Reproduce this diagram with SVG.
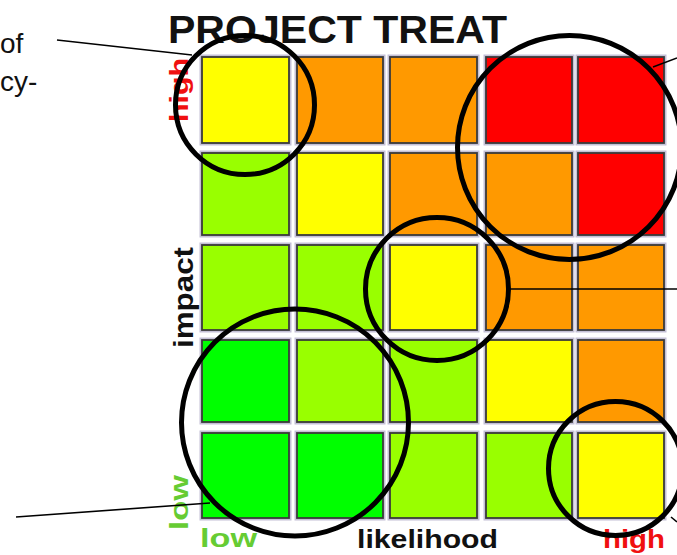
<svg xmlns="http://www.w3.org/2000/svg" width="677" height="555" viewBox="0 0 677 555">
<defs>
<style>
.cell{stroke:#3a3a3a;stroke-width:1.8}
.halo{fill:none;stroke:#c4c0d6;stroke-width:5}
.y{fill:#ffff00}.o{fill:#ff9900}.r{fill:#ff0000}.l{fill:#99ff00}.g{fill:#00ff00}
.ring{fill:none;stroke:#000;stroke-width:5}
.conn{stroke:#000;stroke-width:1.6;fill:none}
.lbl{font-family:"Liberation Sans",Arial,sans-serif;font-weight:bold;font-size:26px}
.side{font-family:"Liberation Sans",Arial,sans-serif;font-size:28px;fill:#111}
</style>
</defs>
<rect width="677" height="555" fill="#fff"/>

<g id="fragments">
<text class="side" x="0" y="53">of</text>
<text class="side" x="0" y="91">cy-</text>
</g>

<g id="title"><text class="lbl" x="168" y="43" style="font-size:38px" textLength="339" lengthAdjust="spacingAndGlyphs" fill="#111">PROJECT TREAT</text></g>

<g id="grid">
<g id="halos">
<rect class="halo" x="202" y="57" width="87" height="86"/><rect class="halo" x="297" y="57" width="86" height="86"/><rect class="halo" x="390" y="57" width="87" height="86"/><rect class="halo" x="486" y="57" width="86" height="86"/><rect class="halo" x="578" y="57" width="86" height="86"/>
<rect class="halo" x="202" y="153" width="87" height="82"/><rect class="halo" x="297" y="153" width="86" height="82"/><rect class="halo" x="390" y="153" width="87" height="82"/><rect class="halo" x="486" y="153" width="86" height="82"/><rect class="halo" x="578" y="153" width="86" height="82"/>
<rect class="halo" x="202" y="245" width="87" height="85"/><rect class="halo" x="297" y="245" width="86" height="85"/><rect class="halo" x="390" y="245" width="87" height="85"/><rect class="halo" x="486" y="245" width="86" height="85"/><rect class="halo" x="578" y="245" width="86" height="85"/>
<rect class="halo" x="202" y="340" width="87" height="82"/><rect class="halo" x="297" y="340" width="86" height="82"/><rect class="halo" x="390" y="340" width="87" height="82"/><rect class="halo" x="486" y="340" width="86" height="82"/><rect class="halo" x="578" y="340" width="86" height="82"/>
<rect class="halo" x="202" y="433" width="87" height="85"/><rect class="halo" x="297" y="433" width="86" height="85"/><rect class="halo" x="390" y="433" width="87" height="85"/><rect class="halo" x="486" y="433" width="86" height="85"/><rect class="halo" x="578" y="433" width="86" height="85"/>
</g>
<g id="row1">
<rect id="c11" class="cell y" x="202" y="57" width="87" height="86"/><rect id="c12" class="cell o" x="297" y="57" width="86" height="86"/><rect id="c13" class="cell o" x="390" y="57" width="87" height="86"/><rect id="c14" class="cell r" x="486" y="57" width="86" height="86"/><rect id="c15" class="cell r" x="578" y="57" width="86" height="86"/>
</g>
<g id="row2">
<rect id="c21" class="cell l" x="202" y="153" width="87" height="82"/><rect id="c22" class="cell y" x="297" y="153" width="86" height="82"/><rect id="c23" class="cell o" x="390" y="153" width="87" height="82"/><rect id="c24" class="cell o" x="486" y="153" width="86" height="82"/><rect id="c25" class="cell r" x="578" y="153" width="86" height="82"/>
</g>
<g id="row3">
<rect id="c31" class="cell l" x="202" y="245" width="87" height="85"/><rect id="c32" class="cell l" x="297" y="245" width="86" height="85"/><rect id="c33" class="cell y" x="390" y="245" width="87" height="85"/><rect id="c34" class="cell o" x="486" y="245" width="86" height="85"/><rect id="c35" class="cell o" x="578" y="245" width="86" height="85"/>
</g>
<g id="row4">
<rect id="c41" class="cell g" x="202" y="340" width="87" height="82"/><rect id="c42" class="cell l" x="297" y="340" width="86" height="82"/><rect id="c43" class="cell l" x="390" y="340" width="87" height="82"/><rect id="c44" class="cell y" x="486" y="340" width="86" height="82"/><rect id="c45" class="cell o" x="578" y="340" width="86" height="82"/>
</g>
<g id="row5">
<rect id="c51" class="cell g" x="202" y="433" width="87" height="85"/><rect id="c52" class="cell g" x="297" y="433" width="86" height="85"/><rect id="c53" class="cell l" x="390" y="433" width="87" height="85"/><rect id="c54" class="cell l" x="486" y="433" width="86" height="85"/><rect id="c55" class="cell y" x="578" y="433" width="86" height="85"/>
</g>
</g>

<g id="axis-labels">
<text class="lbl" fill="#f01010" transform="translate(188,90) rotate(-90)" text-anchor="middle" textLength="64" lengthAdjust="spacingAndGlyphs">high</text>
<text class="lbl" fill="#111" style="font-size:28px" transform="translate(193,297.5) rotate(-90)" text-anchor="middle" textLength="101" lengthAdjust="spacingAndGlyphs">impact</text>
<text class="lbl" fill="#66cc33" transform="translate(188,502.5) rotate(-90)" text-anchor="middle" textLength="55" lengthAdjust="spacingAndGlyphs">low</text>
<text class="lbl" fill="#66cc33" x="200" y="547" textLength="57" lengthAdjust="spacingAndGlyphs">low</text>
<text class="lbl" fill="#111" x="357" y="548" textLength="141" lengthAdjust="spacingAndGlyphs">likelihood</text>
<text class="lbl" fill="#f01010" x="603" y="548" textLength="62" lengthAdjust="spacingAndGlyphs">high</text>
</g>

<g id="circles">
<circle id="ring-topleft" class="ring" cx="245" cy="105" r="69.5"/>
<circle id="ring-topright" class="ring" cx="569.5" cy="147.5" r="112"/>
<circle id="ring-middle" class="ring" cx="437" cy="289" r="71.5"/>
<circle id="ring-bottomleft" class="ring" cx="295" cy="422.5" r="113.5"/>
<circle id="ring-bottomright" class="ring" cx="615.5" cy="468.5" r="67"/>
</g>

<g id="connectors">
<line class="conn" x1="57" y1="40" x2="192" y2="55"/>
<line class="conn" x1="653" y1="67" x2="677" y2="58"/>
<line class="conn" x1="510" y1="289" x2="677" y2="289"/>
<line class="conn" x1="16" y1="517" x2="210" y2="503"/>
<line class="conn" x1="671" y1="517" x2="677" y2="522"/>
</g>
</svg>
